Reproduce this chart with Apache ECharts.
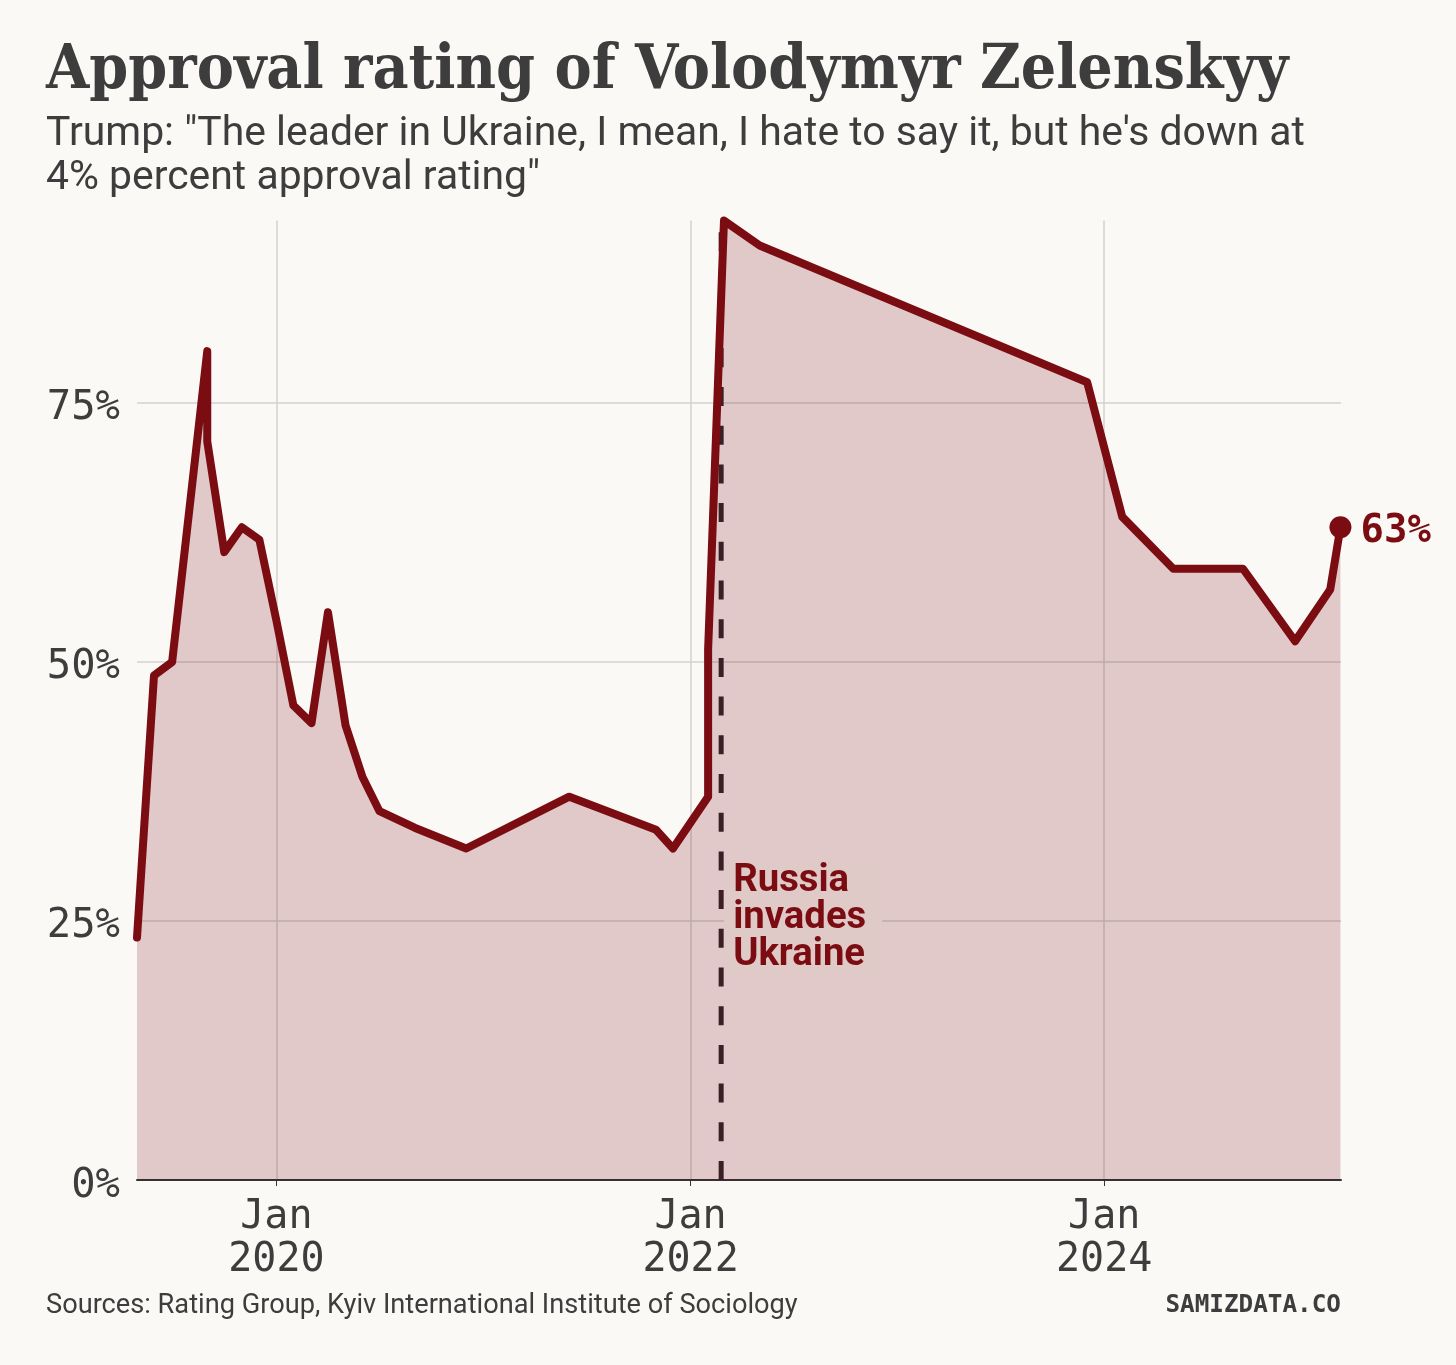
<!DOCTYPE html>
<html>
<head>
<meta charset="utf-8">
<script src="https://cdn.jsdelivr.net/npm/echarts@6/dist/echarts.min.js"></script>
<style>
  html, body { margin: 0; padding: 0; background: #faf9f6; }
  #chart { width: 1456px; height: 1365px; }
</style>
</head>
<body>
<div id="chart"></div>
<script>
const pollDates = [
  "2019-04-30", "2019-05-30", "2019-07-01", "2019-09-01", "2019-09-01", "2019-10-01",
  "2019-11-01", "2019-12-02", "2020-01-01", "2020-01-31", "2020-03-03", "2020-04-01",
  "2020-05-02", "2020-06-01", "2020-07-01", "2020-09-01", "2020-12-01", "2021-06-01",
  "2021-11-01", "2021-12-01", "2022-02-01", "2022-02-01", "2022-03-01", "2022-05-03",
  "2023-12-02", "2024-02-02", "2024-05-02", "2024-09-02", "2024-12-03", "2025-02-03",
  "2025-02-21",
];
const approval = [
  23.4, 48.7, 50, 80, 71.3, 60.6,
  63, 61.8, 54, 45.8, 44.1, 54.8,
  43.9, 38.9, 35.6, 34, 32, 37,
  33.8, 32, 37, 51.2, 92.6, 90.2,
  77, 64, 59, 59, 52, 57,
  63,
];
const yearTicks = ["2020-01-01", "2022-01-01", "2024-01-01"];
const percentTicks = [0, 25, 50, 75];
const invasionDate = "2022-02-24";
const invasionLabel = ["Russia", "invades", "Ukraine"];

const RED = "#7a0c12";
const INK = "#3d3d3d";
const PAPER = "#faf9f6";
const MONO = "'DejaVu Sans Mono'";

const ts = (d) => +new Date(d);
const yearTickValues = yearTicks.map(ts);
const points = pollDates.map((d, i) => [ts(d), approval[i]]);
const lastPoint = points[points.length - 1];

const myChart = echarts.init(document.getElementById("chart"), null, { renderer: "canvas" });

myChart.setOption({
  animation: false,
  backgroundColor: PAPER,
  title: [
    {
      text: "Approval rating of Volodymyr Zelenskyy",
      left: 41, top: 36,
      textStyle: { fontFamily: "'DejaVu Serif Condensed'", fontWeight: "bold", fontSize: 62, color: INK },
    },
    {
      text: "Trump: \"The leader in Ukraine, I mean, I hate to say it, but he's down at\n4% percent approval rating\"",
      left: 41, top: 108,
      textStyle: { fontFamily: "Roboto", fontWeight: "normal", fontSize: 40.9, lineHeight: 44, color: INK },
    },
    {
      text: "Sources: Rating Group, Kyiv International Institute of Sociology",
      left: 41, top: 1288,
      textStyle: { fontFamily: "Roboto", fontWeight: "normal", fontSize: 27.2, color: INK },
    },
    {
      text: "SAMIZDATA.CO",
      right: 110, top: 1289,
      textStyle: { fontFamily: MONO, fontWeight: "bold", fontSize: 24.3, color: INK },
    },
  ],
  grid: { left: 137, right: 115, top: 220.6, bottom: 185 },
  xAxis: {
    type: "value",
    min: ts("2019-04-30"),
    max: ts("2025-02-22"),
    axisLine: { lineStyle: { color: "#333333", width: 2 } },
    axisTick: { length: 6, lineStyle: { color: "#333333", width: 1 }, customValues: yearTickValues },
    axisLabel: {
      customValues: yearTickValues,
      formatter: (v) => "Jan\n" + new Date(v).getUTCFullYear(),
      fontFamily: MONO, fontSize: 40, lineHeight: 43, color: INK, margin: 16.5,
    },
    splitLine: { show: true, lineStyle: { color: "#d3d2cf", width: 1.5 } },
  },
  yAxis: {
    type: "value",
    min: 0,
    max: 92.6,
    axisLine: { show: false },
    axisTick: { show: false, customValues: percentTicks },
    axisLabel: {
      customValues: percentTicks,
      formatter: "{value}%",
      fontFamily: MONO, fontSize: 40.5, color: INK, margin: 17,
      verticalAlign: "top",
      lineHeight: 12,
    },
    splitLine: { show: true, lineStyle: { color: "#d3d2cf", width: 1.5 } },
  },
  series: [
    {
      name: "fill",
      type: "line",
      data: points,
      symbol: "none",
      lineStyle: { width: 0 },
      areaStyle: { color: RED, opacity: 0.2 },
      silent: true,
      z: 2,
    },
    {
      name: "invasion",
      type: "line",
      data: [[ts(invasionDate), 0], [ts(invasionDate), 91.8]],
      symbol: "none",
      lineStyle: { color: "#3a1f24", width: 5, type: [19, 19.7], cap: "butt" },
      silent: true,
      z: 3,
    },
    {
      name: "invasion label",
      type: "scatter",
      data: [[ts(invasionDate), 25.5]],
      symbolSize: 0,
      itemStyle: { opacity: 1 },
      label: {
        show: true,
        position: "right",
        distance: 0,
        offset: [3, 3],
        formatter: invasionLabel.join("\n"),
        fontFamily: "Roboto", fontWeight: "bold", fontSize: 38.3, lineHeight: 37,
        color: RED,
        backgroundColor: "#e0cac8",
        padding: [0, 16, 0, 9],
      },
      silent: true,
      z: 4,
    },
    {
      name: "approval",
      type: "line",
      data: points,
      clip: false,
      symbol: "none",
      lineStyle: { color: RED, width: 8, join: "round", cap: "round" },
      silent: true,
      z: 5,
      markPoint: {
        silent: true,
        animation: false,
        data: [{ coord: lastPoint, symbol: "circle", symbolSize: 22, itemStyle: { color: RED } }],
        label: {
          show: true,
          position: "right",
          distance: 9,
          offset: [0, 5],
          formatter: lastPoint[1] + "%",
          fontFamily: MONO, fontWeight: "bold", fontSize: 39, color: RED,
        },
      },
    },
  ],
});

window.addEventListener("resize", () => {
  myChart.resize();
});
</script>
</body>
</html>
